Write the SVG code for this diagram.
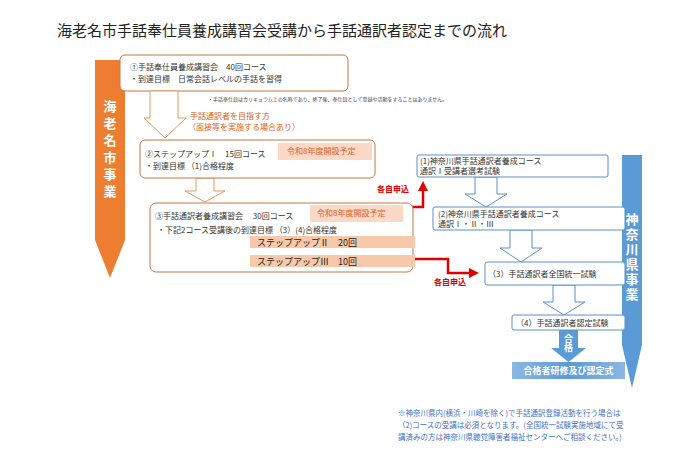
<svg xmlns="http://www.w3.org/2000/svg" width="700" height="457" viewBox="0 0 700 457">
<style>
text{font-family:"Noto Sans CJK JP","Noto Sans CJK SC",sans-serif;}
.t{font-size:8px;fill:#333}
.ob{fill:#fff;stroke:#c0784a;stroke-width:1}
.bb{fill:#fff;stroke:#5b8fc9;stroke-width:1}
.tag{fill:#fbd9c6}
.tagt{font-size:8px;fill:#e06020}
.bar{fill:#f8c8aa}
.bart{font-size:9px;fill:#222}
.ho{fill:#fff;stroke:#e39a5e;stroke-width:1}
.hb{fill:#fff;stroke:#5b8fc9;stroke-width:1}
.red{fill:none;stroke:#e00000;stroke-width:2.5}
.redt{font-size:8px;fill:#e00000;font-weight:bold}
.vt{font-size:13px;fill:#fff;font-weight:bold;writing-mode:vertical-rl;letter-spacing:4px}
</style>
<defs>
<marker id="ra" markerWidth="4" markerHeight="4" refX="2" refY="2" orient="auto" markerUnits="strokeWidth"><path d="M0,0 L4,2 L0,4 z" fill="#e00000"/></marker>
<linearGradient id="bg" x1="0" x2="1"><stop offset="0" stop-color="#8cb8e3"/><stop offset="0.5" stop-color="#5b9bd5"/><stop offset="1" stop-color="#8cb8e3"/></linearGradient>
</defs>
<text x="57" y="36" style="font-size:15px;fill:#222">海老名市手話奉仕員養成講習会受講から手話通訳者認定までの流れ</text>

<g id="ebina"><path d="M95,60 H125 V240 L110,278 L95,240 Z" fill="#ed7d31"/>
<text class="vt" x="110" y="100">海老名市事業</text></g>

<g id="kanagawa"><path d="M622,155 H642 V345 L632,388 L622,345 Z" fill="#5b9bd5"/>
<text class="vt" x="632" y="213" style="letter-spacing:2px">神奈川県事業</text></g>

<g id="box1"><rect class="ob" x="120" y="55" width="228" height="36" rx="5"/>
<text class="t" x="130" y="70">①手話奉仕員養成講習会　40回コース</text>
<text class="t" x="130" y="82">・到達目標　日常会話レベルの手話を習得</text></g>
<text x="208" y="101" style="font-size:5px;fill:#444">・手話奉仕員はカリキュラム上の名称であり、終了後、奉仕員として登録や活動をすることはありません。</text>

<g id="connectors">
<path class="ho" d="M150,91 H178 V118 H186 L165,138 L144,118 H150 Z"/>
<path class="ho" d="M196,178 H214 V191 H225 L205,202 L185,191 H196 Z"/>
<path class="hb" d="M475,177 H497 V194 H507 L486,207 L465,194 H475 Z"/>
<path class="hb" d="M510,230 H532 V248 H542 L521,262 L500,248 H510 Z"/>
<path class="hb" d="M553,285 H575 V302 H585 L564,315 L543,302 H553 Z"/>
<path d="M559,330 H578 V348 H586 L568.5,362 L551,348 H559 Z" fill="#5b9bd5"/>
<path class="red" d="M407,234 V207 H423 V186" marker-end="url(#ra)"/>
<path class="red" d="M415,259 H448 V273 H474" marker-end="url(#ra)"/>
</g>
<text x="190" y="119" style="font-size:8px;fill:#e06020">手話通訳者を目指す方</text>
<text x="188" y="130" style="font-size:8px;fill:#e06020">（面接等を実施する場合あり）</text>
<text class="redt" x="377" y="192">各自申込</text>
<text class="redt" x="434" y="285">各自申込</text>
<text x="568.5" y="334" style="font-size:9px;fill:#fff;font-weight:bold;writing-mode:vertical-rl">合格</text>

<g id="box2"><rect class="ob" x="140" y="140" width="235" height="38" rx="5"/>
<rect class="tag" x="278" y="143" width="94" height="17"/>
<text class="tagt" x="287" y="154">令和8年度開設予定</text>
<text class="t" x="145" y="157">②ステップアップⅠ　15回コース</text>
<text class="t" x="145" y="169">・到達目標 （1)合格程度</text></g>

<g id="box3"><rect class="ob" x="150" y="203" width="263" height="69" rx="6"/>
<rect class="tag" x="310" y="205" width="93" height="17"/>
<text class="tagt" x="317" y="216">令和8年度開設予定</text>
<text class="t" x="155" y="219">③手話通訳者養成講習会　 30回コース</text>
<text class="t" x="157" y="233">・下記2コース受講後の到達目標 （3）(4)合格程度</text>
<rect class="bar" x="250" y="236" width="165" height="12"/>
<text class="bart" x="257" y="246">ステップアップⅡ　20回</text>
<rect class="bar" x="250" y="255" width="165" height="12"/>
<text class="bart" x="257" y="265">ステップアップⅢ　10回</text></g>

<g id="k1"><rect class="bb" x="417" y="155" width="191" height="22" rx="2"/>
<text class="t" x="420" y="164">(1)神奈川県手話通訳者養成コース</text>
<text class="t" x="420" y="174">通訳Ⅰ受講者選考試験</text></g>
<g id="k2"><rect class="bb" x="433" y="207" width="192" height="23" rx="2"/>
<text class="t" x="438" y="217">(2)神奈川県手話通訳者養成コース</text>
<text class="t" x="438" y="227">通訳Ⅰ・Ⅱ・Ⅲ</text></g>
<g id="k3"><rect class="bb" x="485" y="262" width="140" height="23" rx="2"/>
<text class="t" x="488" y="277">（3）手話通訳者全国統一試験</text></g>
<g id="k4"><rect class="bb" x="512" y="315" width="113" height="15" rx="2"/>
<text class="t" x="516" y="326">（4）手話通訳者認定試験</text></g>
<g id="k5"><rect x="512" y="362" width="113" height="17" fill="url(#bg)"/>
<text x="568.5" y="374" text-anchor="middle" style="font-size:9px;fill:#fff;font-weight:bold">合格者研修及び認定式</text></g>

<text style="font-size:7.5px;fill:#4472c4"><tspan x="398" y="416">※神奈川県内(横浜・川崎を除く)で手話通訳登録活動を行う場合は</tspan><tspan x="398" y="428">（2)コースの受講は必須となります。(全国統一試験実施地域にて受</tspan><tspan x="398" y="440">講済みの方は神奈川県聴覚障害者福祉センターへご相談ください。)</tspan></text>
</svg>
